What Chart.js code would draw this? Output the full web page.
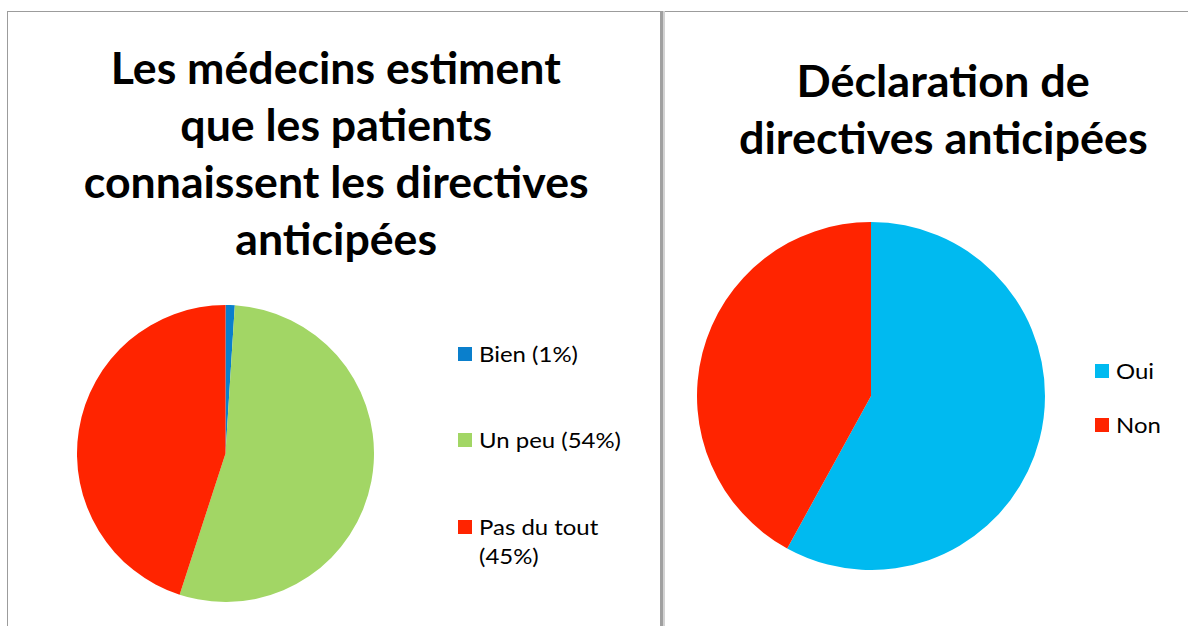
<!DOCTYPE html>
<html>
<head>
<meta charset="utf-8">
<script src="https://cdn.jsdelivr.net/npm/chart.js@4.4.1/dist/chart.umd.min.js"></script>
<style>
  body { margin: 0; background: #fff; width: 1188px; height: 626px; overflow: hidden; position: relative; font-family: Lato, "Open Sans", sans-serif; color: #000; }
  .rule { position: absolute; }
  .title { position: absolute; width: 640px; text-align: center; font-weight: 700; font-size: 43px; line-height: 57px; white-space: nowrap; }
  .title span { display: inline-block; transform-origin: center; }
  .legend { position: absolute; font-size: 21px; line-height: 29px; }
  .legend .item { position: absolute; left: 0; width: 170px; }
  .legend .box { position: absolute; left: 0; width: 14px; height: 14px; }
  .legend .text { position: absolute; left: 21px; width: 140px; transform-origin: left top; }
  canvas { position: absolute; }
</style>
</head>
<body>
<div class="rule" style="left:7px;top:11px;width:1181px;height:1px;background:#9c9c9c"></div>
<div class="rule" style="left:7px;top:11px;width:1px;height:615px;background:#9c9c9c"></div>
<div class="rule" style="left:660px;top:11px;width:3px;height:615px;background:#a0a0a0"></div>
<div class="rule" style="left:663px;top:11px;width:2px;height:615px;background:#d2d2d2"></div>

<div id="title-know" class="title" style="left:16px;top:39px"></div>
<div id="title-decl" class="title" style="left:623px;top:52px"></div>
<canvas id="know-chart" width="297" height="297" style="left:77px;top:305px"></canvas>
<canvas id="decl-chart" width="348" height="348" style="left:697px;top:222px"></canvas>
<div id="legend-know" class="legend" style="left:458px;top:0"></div>
<div id="legend-decl" class="legend" style="left:1095px;top:0"></div>

<script>
const knowTitle = ["Les médecins estiment", "que les patients", "connaissent les directives", "anticipées"];
const knowLabels = ["Bien (1%)", "Un peu (54%)", "Pas du tout (45%)"];
const knowValues = [1, 54, 45];
const knowColors = ["#0a7fcc", "#a2d665", "#ff2400"];

const declTitle = ["Déclaration de", "directives anticipées"];
const declLabels = ["Oui", "Non"];
const declValues = [58, 42];
const declColors = ["#00baf0", "#ff2400"];

const el = id => document.getElementById(id);

function renderTitle(id, lines, refLine, targetWidth) {
  const box = el(id);
  box.innerHTML = lines.map(line => `<div><span>${line}</span></div>`).join("");
  const spans = [...box.querySelectorAll("span")];
  const scale = targetWidth / spans[refLine].getBoundingClientRect().width;
  spans.forEach(span => span.style.transform = `scaleX(${scale})`);
}

function renderLegend(id, labels, colors, tops, scale) {
  el(id).innerHTML = labels.map((label, i) => `
    <div class="item" style="top:${tops[i]}px">
      <div class="box" style="top:8px;background:${colors[i]}"></div>
      <div class="text" style="transform:scaleX(${scale})">${label}</div>
    </div>`).join("");
}

function renderPie(id, labels, values, colors) {
  return new Chart(el(id), {
    type: "pie",
    data: { labels, datasets: [{ data: values, backgroundColor: colors, borderWidth: 0 }] },
    options: {
      responsive: false,
      animation: false,
      layout: { padding: 0 },
      plugins: { legend: { display: false }, tooltip: { enabled: false } }
    }
  });
}

renderTitle("title-know", knowTitle, 0, 450);
renderTitle("title-decl", declTitle, 1, 409);
renderLegend("legend-know", knowLabels, knowColors, [339, 425, 512], 1.14);
renderLegend("legend-decl", declLabels, declColors, [356, 410], 1.14);
renderPie("know-chart", knowLabels, knowValues, knowColors);
renderPie("decl-chart", declLabels, declValues, declColors);
</script>
</body>
</html>
